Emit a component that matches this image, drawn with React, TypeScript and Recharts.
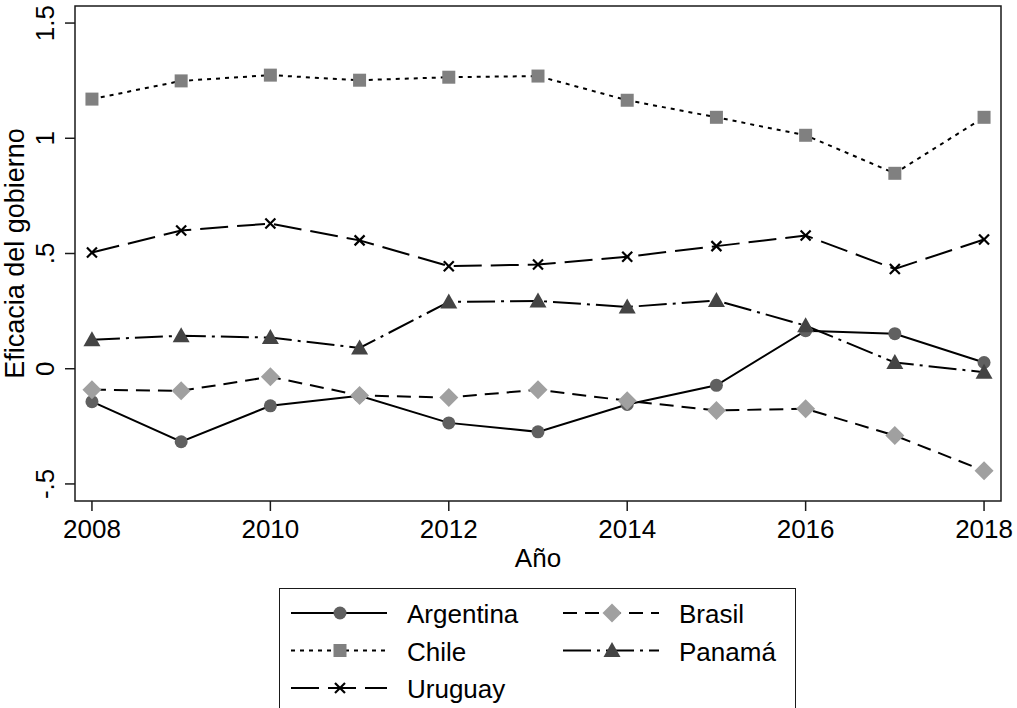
import React from "react"
import { LineChart, Line, XAxis, YAxis, ReferenceArea } from "recharts"

const years = [2008, 2009, 2010, 2011, 2012, 2013, 2014, 2015, 2016, 2017, 2018]
const argentina = [-0.143, -0.317, -0.161, -0.117, -0.235, -0.274, -0.155, -0.072, 0.165, 0.152, 0.027]
const brasil = [-0.091, -0.096, -0.035, -0.116, -0.125, -0.091, -0.139, -0.181, -0.174, -0.29, -0.443]
const chile = [1.17, 1.249, 1.274, 1.252, 1.265, 1.27, 1.165, 1.091, 1.013, 0.848, 1.091]
const panama = [0.126, 0.143, 0.135, 0.09, 0.29, 0.294, 0.268, 0.296, 0.187, 0.027, -0.015]
const uruguay = [0.504, 0.6, 0.63, 0.557, 0.445, 0.452, 0.486, 0.532, 0.578, 0.433, 0.561]

const xTicks = [2008, 2010, 2012, 2014, 2016, 2018]
const yTicks = [-0.5, 0, 0.5, 1, 1.5]
const yTickLabels = ["-.5", "0", ".5", "1", "1.5"]

const data = years.map((year, i) => ({
  year,
  argentina: argentina[i],
  brasil: brasil[i],
  chile: chile[i],
  panama: panama[i],
  uruguay: uruguay[i],
}))

const FONT = "'Liberation Sans', Arial, Helvetica, sans-serif"
const FS = 26
const INK = "#1a1a1a"
const X_DOMAIN = [2007.81, 2018.19]
const Y_DOMAIN = [-0.574, 1.574]

function Marker({ kind, cx, cy }: { kind: string; cx: number; cy: number }) {
  if (cx == null || cy == null) return null
  switch (kind) {
    case "circle":
      return <circle cx={cx} cy={cy} r={6.5} fill="#606060" />
    case "square":
      return <rect x={cx - 6.5} y={cy - 6.5} width={13} height={13} fill="#808080" />
    case "diamond":
      return (
        <polygon
          points={`${cx},${cy - 9.5} ${cx + 9.5},${cy} ${cx},${cy + 9.5} ${cx - 9.5},${cy}`}
          fill="#a0a0a0"
        />
      )
    case "triangle":
      return (
        <polygon
          points={`${cx},${cy - 8.5} ${cx + 8.5},${cy + 6.5} ${cx - 8.5},${cy + 6.5}`}
          fill="#444444"
        />
      )
    default:
      return (
        <g stroke="#000" strokeWidth={2.2}>
          <line x1={cx - 5} y1={cy - 5} x2={cx + 5} y2={cy + 5} />
          <line x1={cx - 5} y1={cy + 5} x2={cx + 5} y2={cy - 5} />
        </g>
      )
  }
}

// draw order follows the legend: Argentina, Brasil, Chile, Panamá, Uruguay
const series = [
  { key: "argentina", name: "Argentina", marker: "circle", dash: undefined, col: 0, row: 0 },
  { key: "brasil", name: "Brasil", marker: "diamond", dash: "14 8", col: 1, row: 0 },
  { key: "chile", name: "Chile", marker: "square", dash: "4 5", col: 0, row: 1 },
  { key: "panama", name: "Panamá", marker: "triangle", dash: "28 6 3 6", col: 1, row: 1 },
  { key: "uruguay", name: "Uruguay", marker: "x", dash: "28 9", col: 0, row: 2 },
]

function YTick({ x, y, index }: any) {
  const tx = x - 9
  return (
    <text
      x={tx}
      y={y}
      transform={`rotate(-90 ${tx} ${y})`}
      textAnchor="middle"
      fontSize={FS}
      fontFamily={FONT}
      fill="#000"
    >
      {yTickLabels[index]}
    </text>
  )
}

function XTick({ x, y, payload }: any) {
  return (
    <text x={x} y={y + 25} textAnchor="middle" fontSize={FS} fontFamily={FONT} fill="#000">
      {payload.value}
    </text>
  )
}

function YTitle({ viewBox }: any) {
  const x = viewBox.x + 24
  const y = viewBox.y + viewBox.height / 2
  return (
    <text x={x} y={y} transform={`rotate(-90 ${x} ${y})`} textAnchor="middle" fontSize={27} fontFamily={FONT} fill="#000">
      Eficacia del gobierno
    </text>
  )
}

function XTitle({ viewBox }: any) {
  return (
    <text x={viewBox.x + viewBox.width / 2} y={viewBox.y + 66} textAnchor="middle" fontSize={FS} fontFamily={FONT} fill="#000">
      Año
    </text>
  )
}

function ChartLegend() {
  return (
    <div
      style={{
        position: "absolute",
        left: 279,
        top: 588,
        width: 517,
        height: 140,
        border: `1.5px solid ${INK}`,
        boxSizing: "border-box",
        background: "#fff",
      }}
    >
      <svg width={517} height={140} style={{ position: "absolute", left: -1.5, top: -1.5 }}>
        {series.map((s) => {
          const x0 = s.col === 0 ? 12 : 284
          const cy = 25 + s.row * 37.5
          return (
            <g key={s.key}>
              <line x1={x0} y1={cy} x2={x0 + 96} y2={cy} stroke="#000" strokeWidth={2} strokeDasharray={s.dash} />
              <Marker kind={s.marker} cx={x0 + 49} cy={cy} />
              <text x={x0 + 116} y={cy + 10} fontSize={FS} fontFamily={FONT} fill="#000">
                {s.name}
              </text>
            </g>
          )
        })}
      </svg>
    </div>
  )
}

export default function App() {
  return (
    <div style={{ position: "absolute", left: 0, top: 0, width: 1017, height: 708, background: "#fff", overflow: "hidden" }}>
      <LineChart width={1017} height={708} data={data} margin={{ top: 6, right: 16, bottom: 0, left: 0 }}>
        <XAxis
          dataKey="year"
          type="number"
          domain={X_DOMAIN}
          ticks={xTicks}
          allowDataOverflow
          height={207}
          axisLine={false}
          tickSize={10}
          tickLine={{ stroke: INK, strokeWidth: 1.5 }}
          tick={<XTick />}
          label={<XTitle />}
        />
        <YAxis
          type="number"
          domain={Y_DOMAIN}
          ticks={yTicks}
          allowDataOverflow
          width={75}
          axisLine={false}
          tickSize={10}
          tickLine={{ stroke: INK, strokeWidth: 1.5 }}
          tick={<YTick />}
          label={<YTitle />}
        />
        <ReferenceArea
          x1={X_DOMAIN[0]}
          x2={X_DOMAIN[1]}
          y1={Y_DOMAIN[0]}
          y2={Y_DOMAIN[1]}
          fill="none"
          fillOpacity={0}
          stroke={INK}
          strokeWidth={1.5}
          ifOverflow="visible"
        />
        {series.map((s) => (
          <Line
            key={s.key}
            dataKey={s.key}
            name={s.name}
            stroke="#000"
            strokeWidth={2}
            strokeDasharray={s.dash}
            isAnimationActive={false}
            dot={(p: any) => <Marker key={`${s.key}-${p.index}`} kind={s.marker} cx={p.cx} cy={p.cy} />}
            activeDot={false}
          />
        ))}
      </LineChart>
      <ChartLegend />
    </div>
  )
}
